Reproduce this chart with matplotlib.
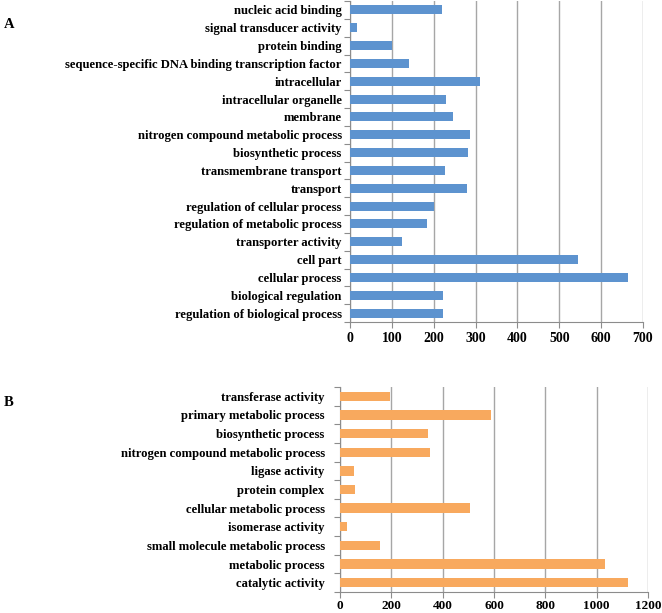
import matplotlib
matplotlib.use("Agg")
import matplotlib.pyplot as plt
import numpy as np

plt.rcParams['font.family'] = ['Liberation Serif', 'DejaVu Serif']
plt.rcParams['font.weight'] = 'bold'

cats_a = [
    "nucleic acid binding",
    "signal transducer activity",
    "protein binding",
    "sequence-specific DNA binding transcription factor",
    "intracellular",
    "intracellular organelle",
    "membrane",
    "nitrogen compound metabolic process",
    "biosynthetic process",
    "transmembrane transport",
    "transport",
    "regulation of cellular process",
    "regulation of metabolic process",
    "transporter activity",
    "cell part",
    "cellular process",
    "biological regulation",
    "regulation of biological process",
]
vals_a = [220, 16, 100, 141, 310, 229, 246, 286, 283, 226, 279, 200, 183, 124, 544, 663, 222, 221]
ticks_a = [0, 100, 200, 300, 400, 500, 600, 700]

cats_b = [
    "transferase activity",
    "primary metabolic process",
    "biosynthetic process",
    "nitrogen compound metabolic process",
    "ligase activity",
    "protein complex",
    "cellular metabolic process",
    "isomerase activity",
    "small molecule metabolic process",
    "metabolic process",
    "catalytic activity",
]
vals_b = [194, 587, 341, 349, 54, 59, 505, 28, 154, 1032, 1123]
ticks_b = [0, 200, 400, 600, 800, 1000, 1200]

blue = "#5D93CF"
orange = "#F8A95E"
grid_c = "#A6A6A6"
spine_c = "#8C8C8C"

fig = plt.figure(figsize=(6.62, 6.13), dpi=100)

def panel(rect, cats, vals, ticks, color, letter, letter_y, ypad, xfs, xpad):
    ax = fig.add_axes(rect)
    n = len(cats)
    y = np.arange(n)[::-1]
    ax.barh(y, vals, height=0.5, color=color, zorder=3)
    ax.set_ylim(-0.5, n - 0.5)
    ax.set_xlim(ticks[0], ticks[-1])
    ax.set_xticks(ticks)
    ax.set_xticklabels([str(t) for t in ticks], fontsize=xfs, fontweight='bold')
    ax.set_yticks(y)
    ax.set_yticklabels(cats, fontsize=9.1, fontweight='bold')
    ax.tick_params(axis='y', length=0, pad=ypad)
    ax.set_yticks(np.arange(n + 1) - 0.5, minor=True)
    ax.tick_params(axis='y', which='minor', length=4, color=spine_c, width=0.8)
    ax.tick_params(axis='x', length=4, color=spine_c, width=0.8, pad=xpad)
    ax.xaxis.grid(True, color=grid_c, linewidth=1.0, zorder=0)
    ax.set_axisbelow(True)
    for s in ['top', 'right']:
        ax.spines[s].set_visible(False)
    for s in ['left', 'bottom']:
        ax.spines[s].set_color(spine_c)
        ax.spines[s].set_linewidth(0.8)
    fig.text(0.006, letter_y, letter, fontsize=10.5, fontweight='bold', va='center', ha='left')
    return ax

# panel A: x 350..643 px, y 0..322 px
panel([350 / 662, 1 - 322 / 613, 293 / 662, 321 / 613], cats_a, vals_a, ticks_a, blue, "A", 1 - 25 / 613, 6, 10, 3)
# panel B: x 340..648 px, y 387..592 px
panel([340 / 662, 1 - 592 / 613, 308 / 662, 205 / 613], cats_b, vals_b, ticks_b, orange, "B", 1 - 403 / 613, 11, 9.5, 1.5)

fig.savefig("out.png", dpi=100)
